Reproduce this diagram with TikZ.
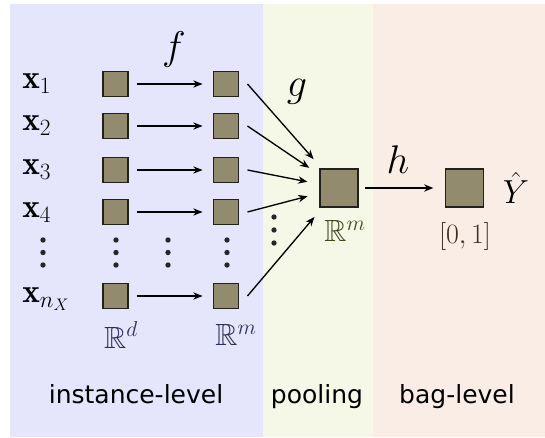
\RequirePackage{fix-cm}
\documentclass[tikz,border=0pt]{standalone}
\usepackage{amssymb}
\usepackage{fontspec}
\setsansfont{DejaVu Sans}
\usetikzlibrary{arrows.meta}
\definecolor{bgblue}{HTML}{E5E5FB}
\definecolor{bggreen}{HTML}{F5F8E7}
\definecolor{bgpink}{HTML}{FAEDE6}
\definecolor{boxfill}{HTML}{938B6E}
\definecolor{boxline}{HTML}{22221A}
\definecolor{labblue}{HTML}{2E2E58}
\definecolor{labgreen}{HTML}{404820}
\definecolor{labbrown}{HTML}{402E22}
\begin{document}
\begin{tikzpicture}[x=0.75pt,y=-0.75pt,
  cell/.style={draw=boxline,fill=boxfill,line width=1.2pt,minimum size=19pt,inner sep=0pt},
  bigcell/.style={cell,minimum size=28.5pt},
  conn/.style={line width=1pt,-{Stealth[length=7pt,width=5.5pt]}},
  xlab/.style={anchor=base west,inner sep=0pt,font=\fontsize{25}{29}\selectfont},
  fn/.style={inner sep=0pt,font=\fontsize{30}{34}\selectfont},
  sp/.style={inner sep=0pt,font=\fontsize{23}{26}\selectfont},
  region/.style={anchor=base,inner sep=0pt,font=\sffamily\fontsize{18.75}{22}\selectfont},
  vdot/.style={circle,fill=black!85,inner sep=0pt,minimum size=4pt}]
\useasboundingbox (0,0) rectangle (545,438);
\fill[bgblue] (10,4) rectangle (263,437);
\fill[bggreen] (263,4) rectangle (373,437);
\fill[bgpink] (373,4) rectangle (545,437);

% instance boxes
\node[cell] (a1) at (115.5,84) {};
\node[cell] (a2) at (115.5,126) {};
\node[cell] (a3) at (115.5,170) {};
\node[cell] (a4) at (115.5,212) {};
\node[cell] (a5) at (115.5,296) {};
\node[cell] (b1) at (226,84) {};
\node[cell] (b2) at (226,126) {};
\node[cell] (b3) at (226,170) {};
\node[cell] (b4) at (226,212) {};
\node[cell] (b5) at (226,296) {};
\node[bigcell] (p) at (339,188) {};
\node[bigcell] (o) at (464.5,188) {};

% input labels
\node[xlab] (x1) at (22,89) {$\mathbf{x}_1$};
\node[xlab] (x2) at (22,131) {$\mathbf{x}_2$};
\node[xlab] (x3) at (22,175) {$\mathbf{x}_3$};
\node[xlab] (x4) at (22,217) {$\mathbf{x}_4$};
\node[xlab] (x5) at (22,302) {$\mathbf{x}_{n_X}$};

% vertical dots
\foreach \c/\n in {43/l,116/m,168/n,227/r}{
  \node[vdot] (d\n1) at (\c,240) {};
  \node[vdot] (d\n2) at (\c,252.5) {};
  \node[vdot] (d\n3) at (\c,265) {};
}
\node[vdot] (dp1) at (274,217) {};
\node[vdot] (dp2) at (274,230) {};
\node[vdot] (dp3) at (274,243) {};

% f arrows
\foreach \i in {1,2,3,4,5}{
  \draw[conn,shorten <=6pt,shorten >=7.5pt] (a\i) -- (b\i);
}
% g arrows
\foreach \i in {1,2,3,4,5}{
  \draw[conn,shorten >=9pt] ([xshift=6pt]b\i.east) -- (p);
}
% h arrow
\draw[conn,shorten <=5pt,shorten >=8.5pt] (p) -- (o);

% function labels
\node[fn] (f) at (174,50) {$f$};
\node[fn] (g) at (297,92) {$g$};
\node[fn] (h) at (398,160) {$h$};

% spaces
\node[sp,text=labblue] (rd) at (121,335) {$\mathbb{R}^d$};
\node[sp,text=labblue] (rm) at (236,335) {$\mathbb{R}^m$};
\node[sp,text=labgreen] (rp) at (345,231) {$\mathbb{R}^m$};
\node[sp,text=labbrown,font=\fontsize{21}{24}\selectfont] (ro) at (465,237) {$[0,1]$};
\node[xlab,anchor=center] (yhat) at (516,188) {$\hat{Y}$};

% region labels
\node[region] (r1) at (136,403) {instance-level};
\node[region] (r2) at (317,403) {pooling};
\node[region] (r3) at (457,403) {bag-level};
\end{tikzpicture}
\end{document}
